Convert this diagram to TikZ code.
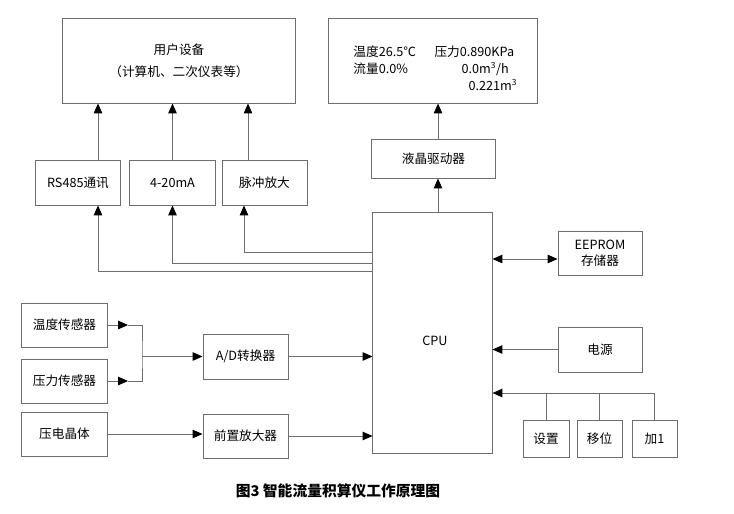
\documentclass[tikz,border=0pt]{standalone}
\usepackage{fontspec}
\setmainfont{Noto Sans CJK SC}
\usetikzlibrary{arrows.meta}
\definecolor{linegray}{HTML}{6E6E6E}
\begin{document}
\begin{tikzpicture}[x=0.025cm,y=-0.025cm,linegray,line width=0.7pt,
  every node/.style={inner sep=0pt,text=black,font=\fontsize{9}{11.5}\selectfont},
  box/.style={draw=linegray},
  >={Triangle[length=7pt,width=6pt,color=black]}]
\useasboundingbox (0,0) rectangle (734,513);
\node[box,minimum width=5.8cm,minimum height=2.1cm,align=center,font=\fontsize{9}{15.6}\selectfont] (v1) at (179,61) {用户设备\\（计算机、二次仪表等）};
\node[box,minimum width=5.2cm,minimum height=2.1cm] (v2) at (433,61) {};
\node[anchor=west] (t1) at (353,52) {温度26.5℃};
\node[anchor=west] (t2) at (434,52) {压力0.890KPa};
\node[anchor=west] (t3) at (353,69) {流量0.0\%};
\node[anchor=west] (t4) at (461,69) {0.0m\textsuperscript{3}/h};
\node[anchor=west] (t5) at (468,85) {0.221m\textsuperscript{3}};
\node[box,minimum width=3.075cm,minimum height=0.975cm] (v3) at (433.5,158.5) {液晶驱动器};
\node[box,minimum width=2.1cm,minimum height=1.125cm] (v4) at (78,182.5) {RS485通讯};
\node[box,minimum width=2.125cm,minimum height=1.125cm] (v5) at (172.5,182.5) {4-20mA};
\node[box,minimum width=2.125cm,minimum height=1.125cm] (v6) at (264.5,182.5) {脉冲放大};
\node[box,minimum width=2.975cm,minimum height=6cm] (v7) at (432.5,333) {};
\node (cpu) at (435,341) {CPU};
\node[box,minimum width=2.1cm,minimum height=1.1cm,align=center] (v8) at (600,253) {EEPROM\\存储器};
\node[box,minimum width=2.1cm,minimum height=1.125cm] (v9) at (600,349.5) {电源};
\node[box,minimum width=1.15cm,minimum height=0.925cm] (v10) at (546,438.5) {设置};
\node[box,minimum width=1.125cm,minimum height=0.925cm] (v11) at (599.5,438.5) {移位};
\node[box,minimum width=1.125cm,minimum height=0.925cm] (v12) at (654.5,438.5) {加1};
\node[box,minimum width=2.125cm,minimum height=1.1cm] (v13) at (64.5,325) {温度传感器};
\node[box,minimum width=2.125cm,minimum height=1.1cm] (v14) at (64.5,381) {压力传感器};
\node[box,minimum width=2.125cm,minimum height=1.1cm] (v15) at (64.5,434) {压电晶体};
\node[box,minimum width=2.125cm,minimum height=1.125cm] (v16) at (245.5,356.5) {A/D转换器};
\node[box,minimum width=2.125cm,minimum height=1.1cm] (v17) at (245.5,436) {前置放大器};
\node[font=\bfseries\fontsize{10.5}{12}\selectfont] (cap) at (338,491) {图3\ 智能流量积算仪工作原理图};
\coordinate (c1) at (98,271);
\coordinate (c2) at (172.5,263);
\coordinate (c3) at (244,252);
\coordinate (c4) at (248,0);
\coordinate (c5) at (438,0);
\coordinate (c6) at (0,259);
\coordinate (c7) at (0,393);
\coordinate (c8) at (128,325);
\coordinate (c9) at (128,381);
\coordinate (c10) at (142,356.5);
\draw[->] (v4.north -| c1) -- (v1.south -| c1);
\draw[->] (v5.north -| c2) -- (v1.south -| c2);
\draw[->] (v6.north -| c4) -- (v1.south -| c4);
\draw[->] (v7.west |- c1) -| (v4.south -| c1);
\draw[->] (v7.west |- c2) -| (v5.south -| c2);
\draw[->] (v7.west |- c3) -| (v6.south -| c3);
\draw[->] (v7.north -| c5) -- (v3.south -| c5);
\draw[->] (v3.north -| c5) -- (v2.south -| c5);
\draw[<->] (v7.east |- c6) -- (v8.west |- c6);
\draw[->] (v9.west) -- (v7.east |- v9.west);
\draw[->] (v12.north) |- (v7.east |- c7);
\draw (v10.north) -- (v10.north |- c7);
\draw (v11.north) -- (v11.north |- c7);
\draw[->] (v13) -- (c8);
\draw[->] (v14) -- (c9);
\draw (c8) -| (c10) |- (c9);
\draw[->] (c10) -- (v16);
\draw[->] (v16.east) -- (v7.west |- v16.east);
\draw[->] (v15.east) -- (v17.west |- v15.east);
\draw[->] (v17.east) -- (v7.west |- v17.east);
\end{tikzpicture}
\end{document}
